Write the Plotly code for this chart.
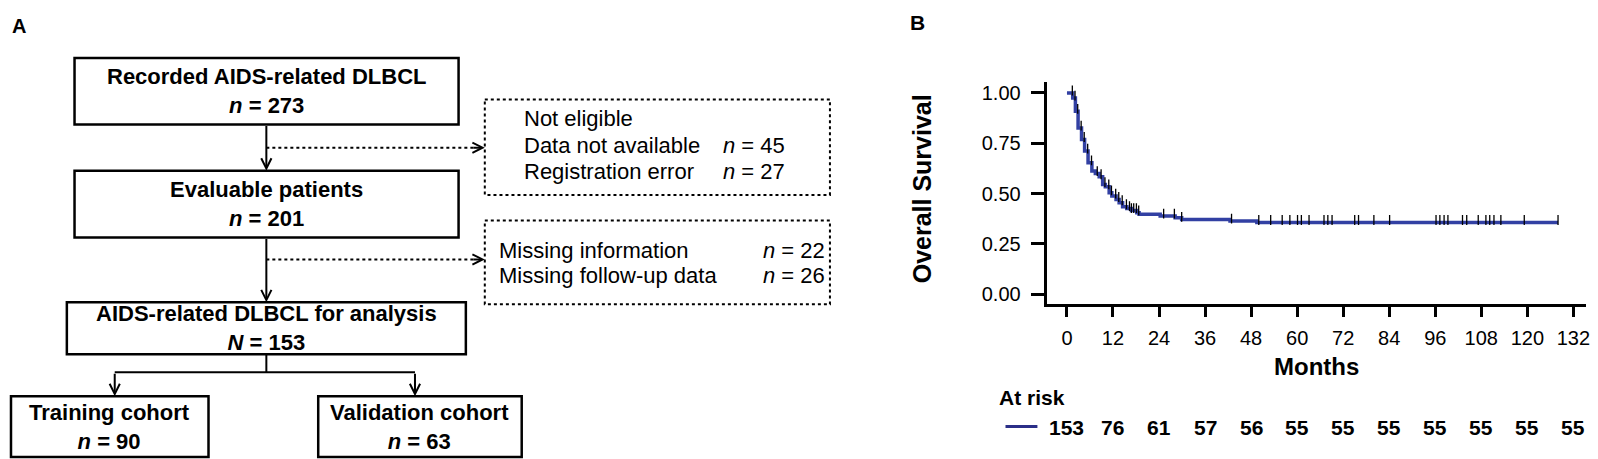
import numpy as np
import plotly.graph_objects as go

# ---- panel B data ----
step_months = [0, 1.5, 2.2, 2.9, 3.8, 4.6, 5.5, 6.5, 7.4, 8.4, 9.3, 10.0, 11.0, 11.7,
               12.8, 13.6, 14.5, 15.6, 16.8, 18.2, 18.8, 24.3, 28.2, 29.9, 42.5, 49.5]
step_surv = [1.0, 0.975, 0.909, 0.826, 0.769, 0.711, 0.653, 0.612, 0.600, 0.584, 0.545,
             0.534, 0.504, 0.488, 0.471, 0.455, 0.435, 0.426, 0.416, 0.405, 0.397, 0.389,
             0.380, 0.372, 0.364, 0.357]
last_month = 128
censor_months = [1.4, 2.1, 2.8, 3.7, 4.5, 5.4, 6.4, 7.9, 8.9, 9.9, 10.9, 11.6, 12.7, 13.5,
                 14.4, 15.5, 16.3, 16.8, 17.4, 18.1, 18.7, 25.2, 28.0, 29.9, 42.9, 50.0,
                 53.1, 56.1, 58.1, 60.1, 61.1, 63.1, 67.0, 68.0, 69.1, 75.0, 76.0, 80.0,
                 84.1, 96.2, 97.2, 98.3, 99.3, 103.1, 104.2, 107.2, 109.2, 110.2, 111.3,
                 113.1, 119.2, 128.0]
risk_months = [0, 12, 24, 36, 48, 60, 72, 84, 96, 108, 120, 132]
at_risk = [153, 76, 61, 57, 56, 55, 55, 55, 55, 55, 55, 55]

# ---- panel A data (flow chart) ----
box_titles = ["Recorded AIDS-related DLBCL", "Evaluable patients",
              "AIDS-related DLBCL for analysis", "Training cohort", "Validation cohort"]
box_nsym = ["n", "n", "N", "n", "n"]
box_counts = [273, 201, 153, 90, 63]
excl1_head = "Not eligible"
excl1_labels = ["Data not available", "Registration error"]
excl1_counts = [45, 27]
excl2_labels = ["Missing information", "Missing follow-up data"]
excl2_counts = [22, 26]

# flow chart geometry in pixels (x right, y down)
boxes = [(66.7, 50, 451.7, 116.7), (66.7, 163, 451.7, 230), (59, 295, 459, 347),
         (3, 389, 201, 450), (311, 389, 515, 450)]
dbox1 = (478, 91.7, 824, 187.3)
dbox2 = (478, 213, 824, 297)

W, H = 1598, 459
BLUE = "#3240A3"
FONT = "Liberation Sans, Arial, sans-serif"
FS = 22

fig = go.Figure()

# KM step curve
xs = step_months + [last_month]
ys = step_surv + [step_surv[-1]]
fig.add_trace(go.Scatter(x=xs, y=ys, mode="lines", line=dict(color=BLUE, width=3.5, shape="hv"),
                         hoverinfo="skip", showlegend=False))
idx = np.searchsorted(step_months, censor_months, side="right") - 1
cy = np.array(step_surv)[idx]
fig.add_trace(go.Scatter(x=censor_months, y=cy + 0.012, mode="markers",
                         marker=dict(symbol="line-ns", size=7, line=dict(color="black", width=1.3)),
                         hoverinfo="skip", showlegend=False))

# invisible trace to make the flow chart axes exist
fig.add_trace(go.Scatter(x=[0], y=[0], xaxis="x2", yaxis="y2", mode="markers",
                         marker=dict(opacity=0), hoverinfo="skip", showlegend=False))

fig.update_layout(
    width=W, height=H, margin=dict(l=0, r=0, t=0, b=0, pad=0),
    paper_bgcolor="white", plot_bgcolor="white",
    font=dict(family=FONT, color="black", size=20),
    xaxis=dict(domain=[1042 / W, 1582 / W], range=[-5.1, 135.3], tick0=0, dtick=12,
               showline=True, linecolor="black", linewidth=2.5, ticks="outside",
               ticklen=10, tickwidth=2.5, tickcolor="black", showgrid=False, zeroline=False,
               ticklabelstandoff=4, tickfont=dict(size=20),
               title=dict(text="<b>Months</b>", font=dict(size=24), standoff=11)),
    yaxis=dict(domain=[(H - 297) / H, (H - 74) / H], range=[-0.05, 1.055], tick0=0,
               dtick=0.25, tickformat=".2f", showline=True, linecolor="black", linewidth=2.5,
               ticks="outside", ticklen=14, tickwidth=2.5, tickcolor="black", showgrid=False,
               zeroline=False, ticklabelstandoff=6, tickfont=dict(size=20)),
    xaxis2=dict(domain=[0, 900 / W], range=[0, 900], visible=False, fixedrange=True),
    yaxis2=dict(domain=[0, 1], range=[H, 0], visible=False, fixedrange=True, anchor="x2"),
)

ann = []
shapes = []

# Y title
ann.append(dict(text="<b>Overall Survival</b>", xref="paper", yref="paper", x=916 / W,
                y=(H - 181) / H, textangle=-90, showarrow=False, font=dict(size=25),
                xanchor="center", yanchor="middle"))
# panel letters
ann.append(dict(text="<b>A</b>", xref="paper", yref="paper", x=2 / W, y=(H - 18) / H,
                xanchor="left", yanchor="middle", showarrow=False, font=dict(size=20)))
ann.append(dict(text="<b>B</b>", xref="paper", yref="paper", x=902 / W, y=(H - 15) / H,
                xanchor="left", yanchor="middle", showarrow=False, font=dict(size=21)))

# at-risk table
ann.append(dict(text="<b>At risk</b>", xref="paper", yref="paper", x=991 / W, y=(H - 390) / H,
                xanchor="left", yanchor="middle", showarrow=False, font=dict(size=21)))
shapes.append(dict(type="line", xref="paper", yref="paper", x0=1000 / W, x1=1032 / W,
                   y0=(H - 419.5) / H, y1=(H - 419.5) / H, line=dict(color="#2B2F88", width=3)))
for m, n in zip(risk_months, at_risk):
    ann.append(dict(text=f"<b>{n}</b>", xref="x", yref="paper", x=m, y=(H - 420) / H,
                    xanchor="center", yanchor="middle", showarrow=False, font=dict(size=21)))

# flow chart boxes
for (x0, y0, x1, y1), title, sym, cnt in zip(boxes, box_titles, box_nsym, box_counts):
    shapes.append(dict(type="rect", xref="x2", yref="y2", x0=x0, y0=y0, x1=x1, y1=y1,
                       line=dict(color="black", width=2.5)))
    ann.append(dict(text=f"<b>{title}<br><i>{sym}</i> = {cnt}</b>", xref="x2", yref="y2",
                    x=(x0 + x1) / 2, y=(y0 + y1) / 2, showarrow=False, align="center",
                    xanchor="center", yanchor="middle", font=dict(size=FS)))

for (x0, y0, x1, y1) in (dbox1, dbox2):
    shapes.append(dict(type="rect", xref="x2", yref="y2", x0=x0, y0=y0, x1=x1, y1=y1,
                       line=dict(color="black", width=2, dash="dot")))

# exclusion texts
ann.append(dict(text=excl1_head, xref="x2", yref="y2", x=515, y=111, showarrow=False,
                xanchor="left", yanchor="middle", font=dict(size=FS)))
for row_y, lab, cnt in zip((138, 164), excl1_labels, excl1_counts):
    ann.append(dict(text=lab, xref="x2", yref="y2", x=515, y=row_y, showarrow=False,
                    xanchor="left", yanchor="middle", font=dict(size=FS)))
    ann.append(dict(text=f"<i>n</i> = {cnt}", xref="x2", yref="y2", x=715, y=row_y,
                    showarrow=False, xanchor="left", yanchor="middle", font=dict(size=FS)))
for row_y, lab, cnt in zip((243, 268), excl2_labels, excl2_counts):
    ann.append(dict(text=lab, xref="x2", yref="y2", x=490, y=row_y, showarrow=False,
                    xanchor="left", yanchor="middle", font=dict(size=FS)))
    ann.append(dict(text=f"<i>n</i> = {cnt}", xref="x2", yref="y2", x=755, y=row_y,
                    showarrow=False, xanchor="left", yanchor="middle", font=dict(size=FS)))


def arrow(x0, y0, x1, y1):
    ann.append(dict(text="", xref="x2", yref="y2", axref="x2", ayref="y2", x=x1, y=y1,
                    ax=x0, ay=y0, showarrow=True, arrowhead=5, arrowsize=1, arrowwidth=2,
                    arrowcolor="black", standoff=0, startstandoff=0))


def line(x0, y0, x1, y1, dash="solid"):
    shapes.append(dict(type="line", xref="x2", yref="y2", x0=x0, y0=y0, x1=x1, y1=y1,
                       line=dict(color="black", width=2, dash=dash)))


cx = 259
arrow(cx, 116.7, cx, 163)
arrow(cx, 230, cx, 295)
# dotted side arrows
line(cx, 140, 468, 140, "dot")
arrow(465, 140, 478, 140)
line(cx, 252, 468, 252, "dot")
arrow(465, 252, 478, 252)
# split to the two cohorts
line(cx, 347, cx, 365)
line(107, 365, 408, 365)
arrow(107, 365, 107, 389)
arrow(408, 365, 408, 389)

fig.update_layout(annotations=ann, shapes=shapes)
fig.write_html("out.html", config={"displayModeBar": False})
